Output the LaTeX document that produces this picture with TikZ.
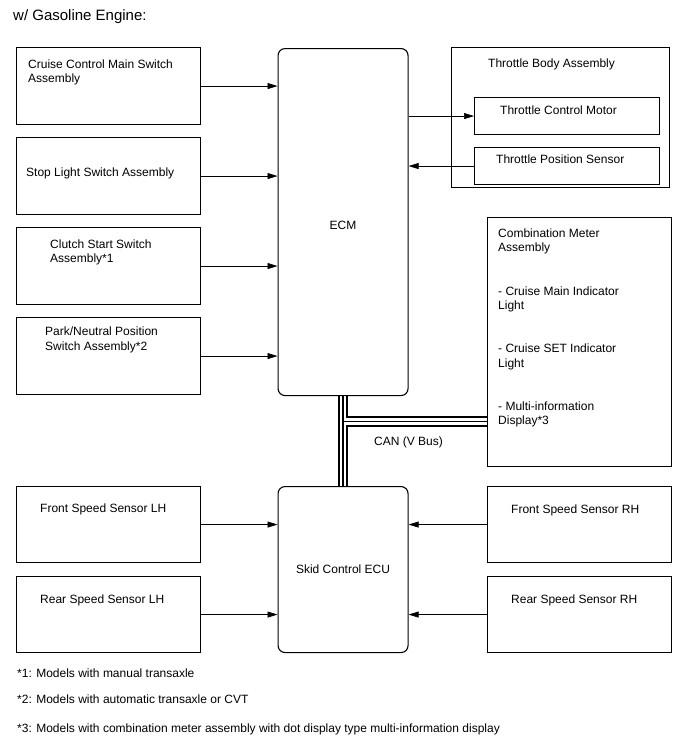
\documentclass[tikz,border=0pt]{standalone}
\usepackage{fontspec}
\setmainfont{Liberation Sans}
\usetikzlibrary{arrows.meta,positioning}
\tikzset{
  box/.style    ={rectangle,draw,line width=1.1pt,anchor=north west,inner sep=0pt},
  ecu/.style    ={rectangle,draw,rounded corners=7pt,line width=1.1pt,anchor=north west,
                  inner sep=0pt,font=\fontsize{12}{14.4}\selectfont},
  txt/.style    ={anchor=north west,align=left,inner sep=0pt,font=\fontsize{12}{14.4}\selectfont},
  arr/.style    ={-{Triangle[length=10pt,width=6pt]},line width=0.7pt},
  bus/.style    ={line width=1.7pt}
}

\begin{document}
\begin{tikzpicture}[x=1pt,y=-1pt]
  \useasboundingbox (0,0) rectangle (688,755);

  \node (title) [txt, font=\fontsize{15}{18}\selectfont] at (13,9.5) {w/ Gasoline Engine:};

  % switches on the left
  \node (cruise) [box, minimum width=184pt, minimum height=77pt] at (16,47)  {};
  \node (stop)   [box, minimum width=184pt, minimum height=77pt] at (16,137) {};
  \node (clutch) [box, minimum width=184pt, minimum height=77pt] at (16,227) {};
  \node (park)   [box, minimum width=184pt, minimum height=77pt] at (16,317) {};
  \node (cruise-t) [txt] at (28,59.5)  {Cruise Control Main Switch\\Assembly};
  \node (stop-t)   [txt] at (26,167.5) {Stop Light Switch Assembly};
  \node (clutch-t) [txt] at (50,239.5) {Clutch Start Switch\\Assembly*1};
  \node (park-t)   [txt] at (45,327)   {Park/Neutral Position\\Switch Assembly*2};

  \node (ecm)  [ecu, minimum width=130pt, minimum height=347pt, text height=15.5pt] at (277.5,48)  {ECM};
  \node (skid) [ecu, minimum width=130pt, minimum height=166pt] at (277.5,486) {Skid Control ECU};

  % throttle body
  \node (tba)   [box, minimum width=218pt, minimum height=140pt] at (451,47)  {};
  \node (tcm)   [box, minimum width=185pt, minimum height=37pt]  at (474,97)  {};
  \node (tps)   [box, minimum width=185pt, minimum height=37pt]  at (474,147) {};
  \node (tba-t) [txt] at (488,58.5)  {Throttle Body Assembly};
  \node (tcm-t) [txt] at (500,105.5) {Throttle Control Motor};
  \node (tps-t) [txt] at (496,154.5) {Throttle Position Sensor};

  \node (meter)   [box, minimum width=184pt, minimum height=249pt] at (487,217) {};
  \node (meter-t) [txt] at (498,228.5) {Combination Meter\\Assembly\\[28.8pt]
    - Cruise Main Indicator\\Light\\[28.8pt]
    - Cruise SET Indicator\\Light\\[28.8pt]
    - Multi-information\\Display*3};

  % speed sensors
  \node (flh) [box, minimum width=184pt, minimum height=76pt] at (16,486)  {};
  \node (rlh) [box, minimum width=184pt, minimum height=76pt] at (16,576)  {};
  \node (frh) [box, minimum width=184pt, minimum height=76pt] at (487,486) {};
  \node (rrh) [box, minimum width=184pt, minimum height=76pt] at (487,576) {};
  \node (flh-t) [txt] at (40,503.5)  {Front Speed Sensor LH};
  \node (rlh-t) [txt] at (40,594.5)  {Rear Speed Sensor LH};
  \node (frh-t) [txt] at (511,504.5) {Front Speed Sensor RH};
  \node (rrh-t) [txt] at (511,594.5) {Rear Speed Sensor RH};

  \draw [arr] (cruise.east) -- (cruise.east -| ecm.west);
  \draw [arr] (stop.east)   -- (stop.east -| ecm.west);
  \draw [arr] (clutch.east) -- (clutch.east -| ecm.west);
  \draw [arr] (park.east)   -- (park.east -| ecm.west);
  \draw [arr] (tcm.west -| ecm.east) -- (tcm.west);
  \draw [arr] (tps.west) -- (tps.west -| ecm.east);
  \draw [arr] (flh.east) -- (flh.east -| skid.west);
  \draw [arr] (rlh.east) -- (rlh.east -| skid.west);
  \draw [arr] (frh.west) -- (frh.west -| skid.east);
  \draw [arr] (rrh.west) -- (rrh.west -| skid.east);

  % CAN bus
  \coordinate (j) at (342.5,421.5);
  \draw [bus] ([xshift=-4.2pt]ecm.south) -- ([xshift=-4.2pt]skid.north);
  \draw [bus] (ecm.south) -- (skid.north);
  \draw [bus] (j) -- (j -| meter.west);
  \draw [bus] ([xshift=4.2pt]ecm.south) |- ([yshift=4.2pt]j -| meter.west);
  \draw [bus] ([xshift=4.2pt]skid.north) |- ([yshift=-4.2pt]j -| meter.west);
  \node (can) [txt] at (374,436.5) {CAN (V Bus)};

  \node (note1) [txt] at (17,668.5) {*1: Models with manual transaxle};
  \node (note2) [txt] at (17,694.5) {*2: Models with automatic transaxle or CVT};
  \node (note3) [txt] at (17,723.5) {*3: Models with combination meter assembly with dot display type multi-information display};
\end{tikzpicture}
\end{document}
